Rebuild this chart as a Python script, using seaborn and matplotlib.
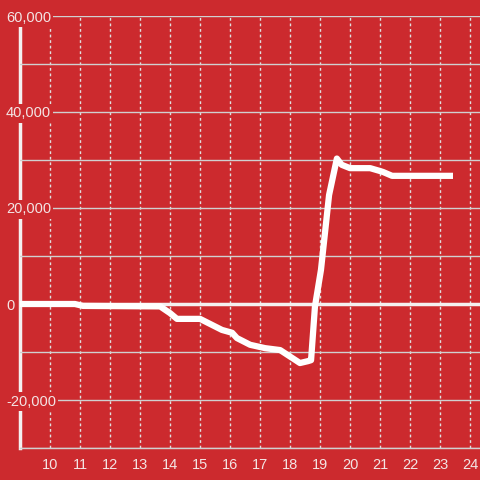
import numpy as np
import pandas as pd
import matplotlib
matplotlib.use("Agg")
import matplotlib.pyplot as plt
import seaborn as sns
from matplotlib.ticker import FuncFormatter, MultipleLocator

# values
hours = [9.0, 10.83, 11.1, 13.67, 14.0, 14.23, 15.0, 15.73, 16.07, 16.23,
         16.67, 17.17, 17.67, 18.33, 18.6, 18.7, 18.83, 19.03, 19.3, 19.56,
         19.72, 20.0, 20.67, 21.0, 21.1, 21.4, 23.43]
balance = [0, 0, -400, -500, -1900, -3100, -3100, -5400, -6000, -7100,
           -8500, -9200, -9600, -12300, -11900, -11700, -500, 7100, 22700, 30300,
           29000, 28300, 28300, 27700, 27500, 26700, 26700]
x_ticks = list(range(10, 25))
y_ticks = [-20000, 0, 20000, 40000, 60000]

bg = "#cc2a2e"
fg = "#f3e4e4"

sns.set_style("white")
plt.rcParams["font.family"] = ["Liberation Sans", "DejaVu Sans"]

fig = plt.figure(figsize=(4.8, 4.8), dpi=100, facecolor=bg)
ax = fig.add_axes([20 / 480, 32 / 480, 460 / 480, 432 / 480])
ax.set_facecolor(bg)

df = pd.DataFrame({"hour": hours, "balance": balance})
sns.lineplot(data=df, x="hour", y="balance", ax=ax, color="white",
             linewidth=4.5, zorder=3, solid_capstyle="butt", solid_joinstyle="round")

ax.axhline(0, color="#f4f0f0", linewidth=2.5, zorder=1.5)

ax.set_xlim(9, 24.33)
ax.set_ylim(-30000, 60000)
ax.set_xticks(x_ticks)
ax.set_yticks(y_ticks)
ax.yaxis.set_minor_locator(MultipleLocator(10000))
ax.yaxis.set_major_formatter(FuncFormatter(lambda v, p: f"{int(v):,}"))

ax.set_axisbelow(True)
ax.yaxis.set_zorder(1)
ax.grid(axis="y", which="both", color="#d0d0d0", linewidth=1, linestyle="-")
ax.grid(axis="x", which="major", color="#e0e0e0", linewidth=1, linestyle=(0, (2, 2)))

ax.tick_params(axis="x", length=0, pad=7, labelsize=10.5, labelcolor=fg)
ax.tick_params(axis="y", which="both", length=0, pad=10, labelsize=10.5, labelcolor=fg)
for lab in ax.get_yticklabels():
    lab.set_horizontalalignment("left")
    lab.set_bbox(dict(facecolor=bg, edgecolor="none", pad=1.5))

ax.set_xlabel("")
ax.set_ylabel("")

for side in ["top", "right"]:
    ax.spines[side].set_visible(False)
ax.spines["left"].set_color("#f4f0f0")
ax.spines["left"].set_linewidth(2.5)
ax.spines["left"].set_zorder(0.8)
ax.spines["bottom"].set_color("#d0d0d0")
ax.spines["bottom"].set_linewidth(1)

fig.savefig("out.png", dpi=100, facecolor=bg)
